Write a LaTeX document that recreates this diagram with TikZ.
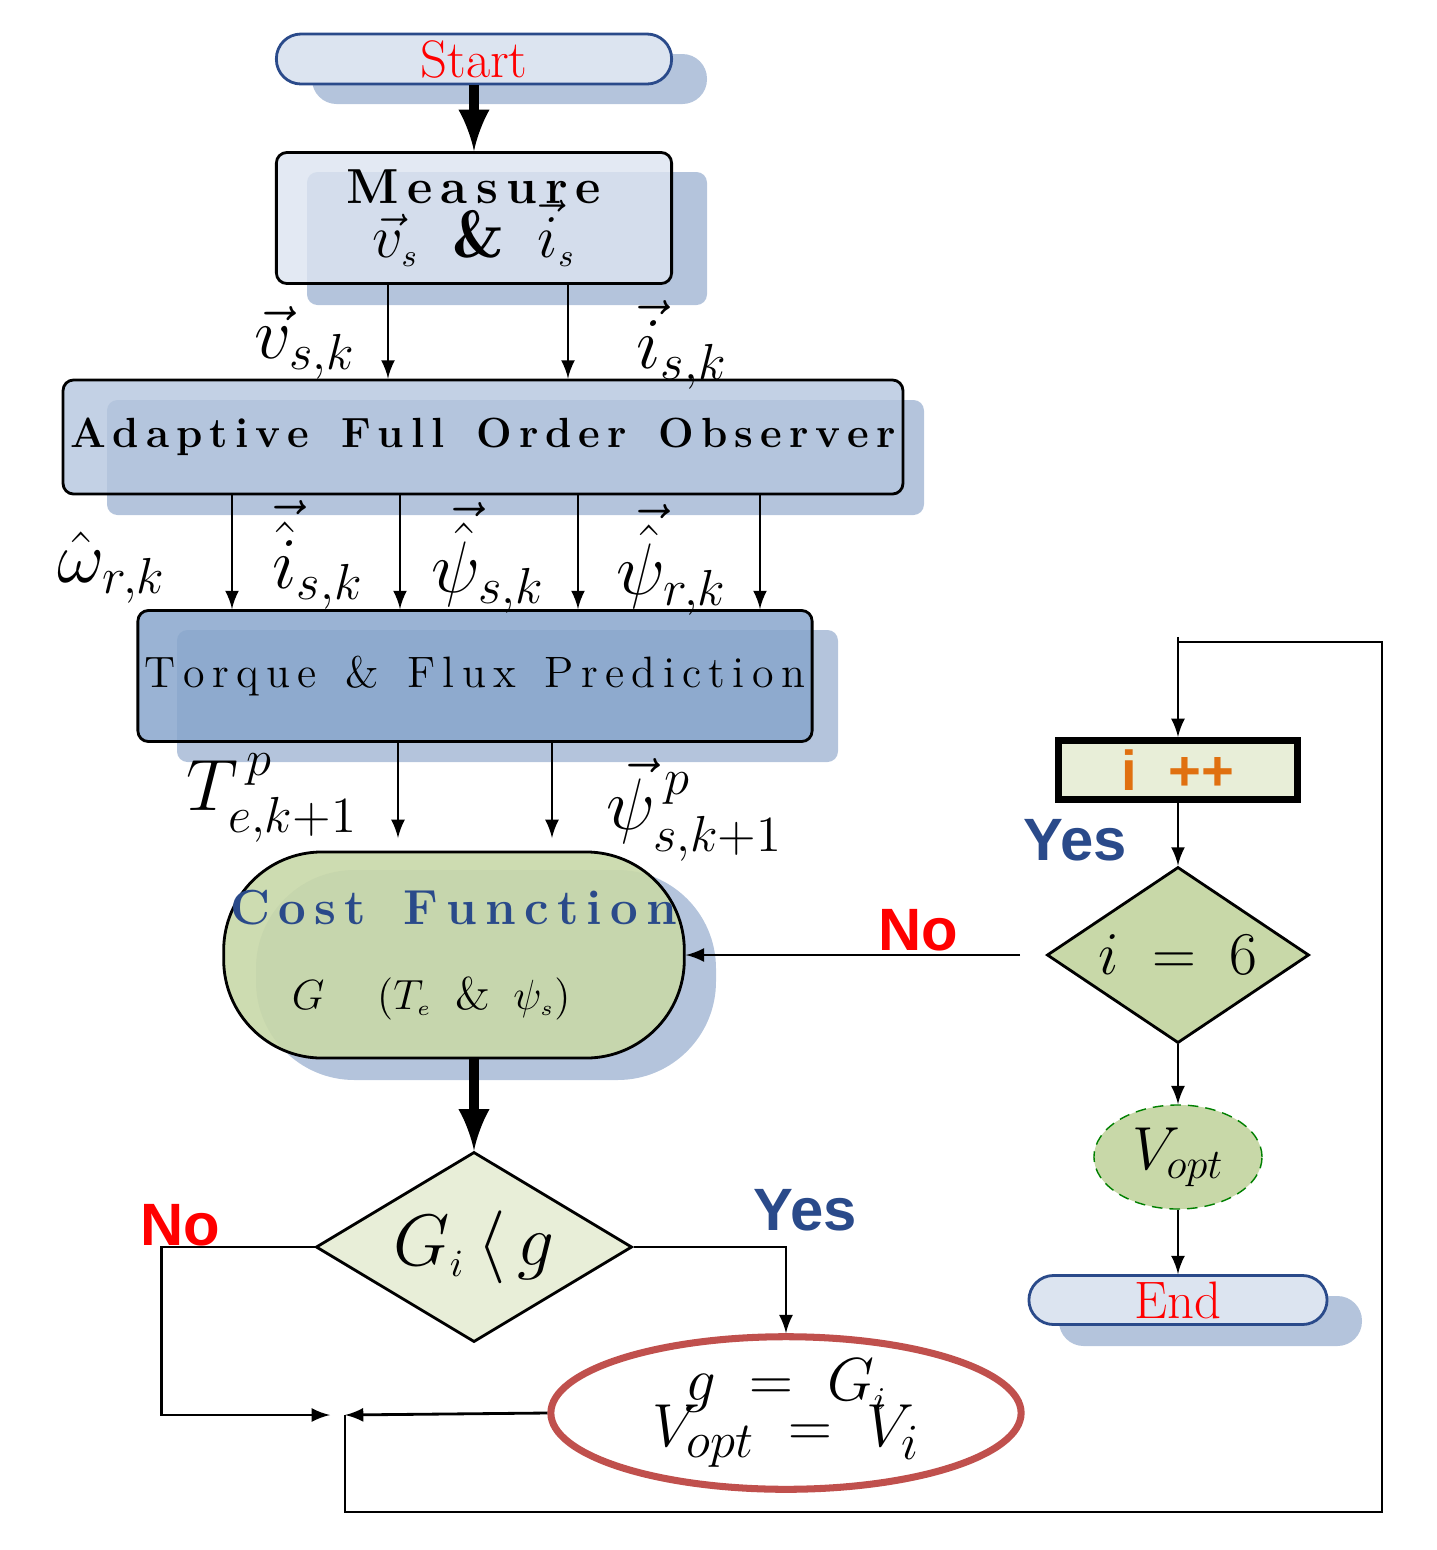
\documentclass[tikz,border=0pt]{standalone}
\usepackage{amsmath}
\usepackage{fontspec}
\newfontfamily\lbl{Liberation Sans}
\usetikzlibrary{arrows,shapes.geometric,calc,positioning}
\definecolor{boxA}{HTML}{DCE4F0}
\definecolor{shad}{HTML}{B4C4DC}
\definecolor{boxB}{HTML}{B4C6DE}
\definecolor{boxC}{HTML}{88A6CC}
\definecolor{grn}{HTML}{C8D8A8}
\definecolor{lgrn}{HTML}{E8EED8}
\definecolor{navy}{HTML}{2A4A8A}
\definecolor{rbrown}{HTML}{C0504D}
\definecolor{orng}{HTML}{E07010}
\tikzset{
  blk/.style={draw, thick, rounded corners=3pt, minimum height=#1, inner sep=2pt},
  pill/.style={draw=navy, thick, rounded corners=7pt, fill=boxA, minimum width=3.95cm, minimum height=0.5cm, inner sep=1pt},
  dec/.style={diamond, draw, thick, aspect=1.65},
  yn/.style={font=\lbl\bfseries\fontsize{17}{17}\selectfont},
  arr/.style={-latex, thick},
  big/.style={-latex, line width=3pt}
}
\begin{document}
\begin{tikzpicture}[x=0.01cm, y=-0.01cm]
\useasboundingbox (0,0) rectangle (1437,1550);

% shadows
\fill[shad, rounded corners=7pt] (312,54) rectangle (707,104);
\fill[shad, rounded corners=3pt] (307,172) rectangle (707,305);
\fill[shad, rounded corners=3pt] (107,400) rectangle (924,515);
\fill[shad, rounded corners=3pt] (177,630) rectangle (838,762);
\fill[shad, rounded corners=28pt] (256,870) rectangle (716,1080);
\fill[shad, rounded corners=7pt] (1059,1296) rectangle (1362,1346);

\node[pill, text=red, font=\fontsize{15}{15}\selectfont] (start) at (474,59) {Start};
\node[blk=1.31cm, fill=boxA, fill opacity=0.8, text opacity=1, minimum width=3.95cm, align=center, inner sep=0pt] (meas) at (474,218)
  {\textbf{\fontsize{14}{15}\selectfont M\,e\,a\,s\,u\,r\,e}\\[-2pt]
   \fontsize{19}{19}\selectfont $\vec{v}_{\scriptscriptstyle s}\;\;\boldsymbol{\&}\;\;\vec{i}_{\scriptscriptstyle s}$};
\node[blk=1.14cm, fill=boxB, fill opacity=0.8, text opacity=1, minimum width=8.13cm, font=\bfseries\fontsize{12}{12}\selectfont] (obs) at (483,437)
  {A\,d\,a\,p\,t\,i\,v\,e\ \ F\,u\,l\,l\ \ O\,r\,d\,e\,r\ \ O\,b\,s\,e\,r\,v\,e\,r};
\node[blk=1.31cm, fill=boxC, fill opacity=0.85, text opacity=1, minimum width=6.57cm, font=\fontsize{12.5}{12.5}\selectfont] (pred) at (475,676)
  {T\,o\,r\,q\,u\,e\ \ \&\ \ F\,l\,u\,x\ \ P\,r\,e\,d\,i\,c\,t\,i\,o\,n};
\node[draw, thick, rounded corners=28pt, fill=grn, fill opacity=0.9, text opacity=1, minimum width=4.56cm, minimum height=2.06cm, inner sep=2pt, align=center] (cost) at (454,955)
  {\textcolor{navy}{\bfseries\fontsize{14}{14}\selectfont C\,o\,s\,t\ \ F\,u\,n\,c\,t\,i\,o\,n}\\[12pt]
   \fontsize{13}{13}\selectfont $G\quad\left(T_{\scriptscriptstyle e}\;\;\&\;\;\psi_{\scriptscriptstyle s}\right)\quad$};
\node[dec, fill=lgrn, minimum width=3.16cm, minimum height=1.9cm, inner sep=0pt] (cmp) at (474,1247)
  {\fontsize{22}{22}\selectfont $G_{\scriptscriptstyle i}\,\langle\, g$};
\node[ellipse, draw=rbrown, line width=2pt, fill=white, minimum width=4.7cm, minimum height=1.37cm, align=center, inner sep=0pt] (upd) at (786,1413)
  {\fontsize{19}{19}\selectfont $g\;=\;G_{\scriptscriptstyle i}$\\[-3pt]
   \fontsize{19}{19}\selectfont $V_{opt}\;=\;V_{i}$};
\node[draw, line width=2pt, fill=lgrn, minimum width=2.38cm, minimum height=0.59cm, inner sep=0pt, text=orng, font=\lbl\bfseries\fontsize{16}{16}\selectfont] (inc) at (1178,770) {i\ \ ++};
\node[dec, fill=grn, minimum width=2.62cm, minimum height=1.76cm, inner sep=0pt] (chk) at (1178,955)
  {\fontsize{19}{19}\selectfont $i\;=\;6$};
\node[ellipse, draw=green!50!black, densely dashed, fill=grn, minimum width=1.68cm, minimum height=1.04cm, inner sep=0pt] (vopt) at (1178,1157)
  {\fontsize{18}{18}\selectfont $V_{opt}$};
\node[pill, minimum width=2.98cm, minimum height=0.49cm, text=red, font=\fontsize{15}{15}\selectfont] (end) at (1178,1300) {End};

% signal labels
\node at (305,343) {\fontsize{20}{20}\selectfont $\vec{v}_{s,k}$};
\node at (682,345) {\fontsize{20}{20}\selectfont $\vec{i}_{s,k}$};
\node at (112,568) {\fontsize{20}{20}\selectfont $\hat{\omega}_{r,k}$};
\node at (318,555) {\fontsize{20}{20}\selectfont $\vec{\hat{i}}_{s,k}$};
\node at (488,558) {\fontsize{20}{20}\selectfont $\vec{\hat{\psi}}_{s,k}$};
\node at (672,560) {\fontsize{20}{20}\selectfont $\vec{\hat{\psi}}_{r,k}$};
\node at (272,798) {\fontsize{22}{22}\selectfont $T^{\,p}_{e,k+1}$};
\node at (695,810) {\fontsize{22}{22}\selectfont $\vec{\psi}^{\,p}_{s,k+1}$};
\node[yn, text=navy] at (805,1210) {Yes};
\node[yn, text=red] at (180,1225) {No};
\node[yn, text=navy] at (1075,840) {Yes};
\node[yn, text=red] at (918,930) {No};

% connectors
\coordinate (v1) at (388,283);  \coordinate (v2) at (568,283);
\coordinate (w1) at (232,494);  \coordinate (w2) at (400,494);
\coordinate (w3) at (578,494);  \coordinate (w4) at (760,494);
\coordinate (t1) at (398,741);  \coordinate (t2) at (552,741);
\coordinate (nofrom) at (1020,955);
\coordinate (join) at (345,1415);

\draw[big] (start) -- (meas);
\draw[arr] (v1) -- (v1 |- obs.north);
\draw[arr] (v2) -- (v2 |- obs.north);
\foreach \w in {w1,w2,w3,w4}
  \draw[arr] (\w) -- (\w |- pred.north);
\draw[arr] (t1) -- ++(0,97);
\draw[arr] (t2) -- ++(0,97);
\draw[big] (cost.south -| cmp.north) -- (cmp.north);
\draw[arr] (cmp.east) -| (upd.north);
\draw[arr] (cmp.west) -- ++(-153,0) |- ($(join)+(-15,0)$);
\draw[arr] (upd.west) -- (join);
\draw[thick] (join) -- ++(0,97) -| (1382,642) -| ($(inc.north)+(0,-100)$);
\draw[arr] ($(inc.north)+(0,-100)$) -- (inc.north);
\draw[arr] (inc) -- (chk);
\draw[arr] (nofrom) -- (cost.east);
\draw[arr] (chk) -- (vopt);
\draw[arr] (vopt) -- (end);
\end{tikzpicture}
\end{document}
